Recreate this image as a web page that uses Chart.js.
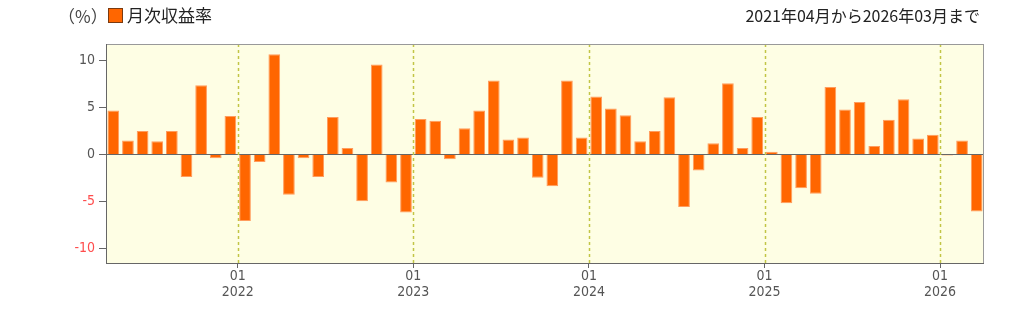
<!DOCTYPE html>
<html>
<head>
<meta charset="utf-8">
<script src="https://cdn.jsdelivr.net/npm/chart.js@4.4.1/dist/chart.umd.min.js"></script>
<style>
  body { margin: 0; background: #fff; }
  #wrap { position: relative; width: 1024px; height: 322px; }
  #grafico { position: absolute; left: 0; top: 0; }
  .cab { position: absolute; font-family: "Noto Sans CJK JP", sans-serif; color: #222; white-space: nowrap; }
  #unidade { left: 58px; top: 3px; font-size: 17px; color: #444; }
  #legenda { left: 108px; top: 2px; font-size: 17px; }
  #legenda span.caixa { display: inline-block; width: 13px; height: 13px; background: #ff6600; border: 1px solid #7a3a10; vertical-align: -1px; margin-right: 4px; }
  #titulo { right: 44px; top: 3px; font-size: 16px; }
</style>
</head>
<body>
<div id="wrap">
  <canvas id="grafico" width="1024" height="322"></canvas>
  <div class="cab" id="unidade">（%）</div>
  <div class="cab" id="legenda"><span class="caixa"></span>月次収益率</div>
  <div class="cab" id="titulo">2021年04月から2026年03月まで</div>
</div>
<script>
// Meses (2021-04 .. 2026-03)
const meses = [
  '2021-04','2021-05','2021-06','2021-07','2021-08','2021-09','2021-10','2021-11','2021-12',
  '2022-01','2022-02','2022-03','2022-04','2022-05','2022-06','2022-07','2022-08','2022-09','2022-10','2022-11','2022-12',
  '2023-01','2023-02','2023-03','2023-04','2023-05','2023-06','2023-07','2023-08','2023-09','2023-10','2023-11','2023-12',
  '2024-01','2024-02','2024-03','2024-04','2024-05','2024-06','2024-07','2024-08','2024-09','2024-10','2024-11','2024-12',
  '2025-01','2025-02','2025-03','2025-04','2025-05','2025-06','2025-07','2025-08','2025-09','2025-10','2025-11','2025-12',
  '2026-01','2026-02','2026-03'
];

// Retorno mensal (%)
const retornos = [
  4.7, 1.5, 2.5, 1.4, 2.5, -2.4, 7.4, -0.4, 4.1,
  -7.1, -0.8, 10.7, -4.3, -0.4, -2.4, 4.0, 0.7, -5.0, 9.6, -3.0, -6.2,
  3.8, 3.6, -0.5, 2.8, 4.7, 7.9, 1.6, 1.8, -2.5, -3.4, 7.9, 1.8,
  6.2, 4.9, 4.2, 1.4, 2.5, 6.1, -5.6, -1.7, 1.2, 7.6, 0.7, 4.0,
  0.3, -5.2, -3.6, -4.2, 7.2, 4.8, 5.6, 0.9, 3.7, 5.9, 1.7, 2.1,
  -0.1, 1.5, -6.1
];

// Rótulos do eixo x (janeiro de cada ano)
const mesTick = '01';
const anosTick = ['2022', '2023', '2024', '2025', '2026'];
const ticksY = [-10, -5, 0, 5, 10];

// posição dos janeiros (limite entre dez e jan)
const posJaneiros = anosTick.map(a => meses.indexOf(a + '-01'));

const pontos = retornos.map((v, i) => ({ x: i + 0.5, y: v }));

// Fundo amarelo, linhas pontilhadas de janeiro e moldura
const moldura = {
  id: 'moldura',
  beforeDraw(chart) {
    const { ctx, chartArea: a } = chart;
    ctx.save();
    ctx.fillStyle = '#fefee4';
    ctx.fillRect(a.left, a.top, a.right - a.left, a.bottom - a.top);
    ctx.restore();
  },
  beforeDatasetsDraw(chart) {
    const { ctx, chartArea: a, scales } = chart;
    ctx.save();
    ctx.strokeStyle = '#c2c545';
    ctx.lineWidth = 1.5;
    ctx.setLineDash([3, 3]);
    posJaneiros.forEach(p => {
      const x = Math.round(scales.x.getPixelForValue(p)) + 0.5;
      ctx.beginPath();
      ctx.moveTo(x, a.top);
      ctx.lineTo(x, a.bottom);
      ctx.stroke();
    });
    ctx.restore();
  },
  afterDraw(chart) {
    const { ctx, chartArea: a } = chart;
    ctx.save();
    ctx.lineWidth = 1;
    ctx.strokeStyle = '#999';
    ctx.beginPath();
    ctx.moveTo(a.left, a.top + 0.5);
    ctx.lineTo(a.right, a.top + 0.5);
    ctx.moveTo(a.right - 0.5, a.top);
    ctx.lineTo(a.right - 0.5, a.bottom);
    ctx.stroke();
    ctx.strokeStyle = '#666';
    ctx.beginPath();
    ctx.moveTo(a.left + 0.5, a.top);
    ctx.lineTo(a.left + 0.5, a.bottom);
    ctx.moveTo(a.left, a.bottom - 0.5);
    ctx.lineTo(a.right, a.bottom - 0.5);
    ctx.stroke();
    ctx.restore();
  }
};

const fonteEixo = { family: "'DejaVu Sans Condensed', 'Liberation Sans Narrow', sans-serif", size: 14, lineHeight: 1.15 };

new Chart(document.getElementById('grafico').getContext('2d'), {
  type: 'bar',
  data: {
    datasets: [{
      label: '月次収益率',
      data: pontos,
      backgroundColor: '#ff6600',
      borderColor: '#ff9c5e',
      borderWidth: 1,
      categoryPercentage: 0.8,
      barPercentage: 1.0
    }]
  },
  options: {
    responsive: false,
    animation: false,
    layout: { padding: { left: 0, right: 40, top: 44, bottom: 0 } },
    plugins: { legend: { display: false }, tooltip: { enabled: false } },
    scales: {
      x: {
        type: 'linear',
        min: 0,
        max: meses.length,
        offset: false,
        afterBuildTicks(scale) {
          scale.ticks = posJaneiros.map(p => ({ value: p }));
        },
        afterFit(scale) { scale.height = 58; },
        ticks: {
          autoSkip: false,
          maxRotation: 0,
          padding: 0,
          color: '#555',
          font: fonteEixo,
          callback(v) {
            const k = posJaneiros.indexOf(v);
            return k >= 0 ? [mesTick, anosTick[k]] : '';
          }
        },
        grid: {
          offset: false,
          drawOnChartArea: false,
          color: '#666',
          tickLength: 4,
          tickWidth: 1
        },
        border: { display: false }
      },
      y: {
        min: -11.7,
        max: 11.8,
        afterBuildTicks(scale) {
          scale.ticks = ticksY.map(v => ({ value: v }));
        },
        afterFit(scale) { scale.width = 106; },
        ticks: {
          padding: 4,
          font: fonteEixo,
          color: ctx => ctx.tick.value < 0 ? '#ff4d4d' : '#555'
        },
        grid: {
          color: ctx => ctx.tick && ctx.tick.value === 0 ? '#666' : 'rgba(0,0,0,0)',
          lineWidth: 1,
          tickColor: '#666',
          tickLength: 7
        },
        border: { display: false }
      }
    }
  },
  plugins: [moldura]
});
</script>
</body>
</html>
